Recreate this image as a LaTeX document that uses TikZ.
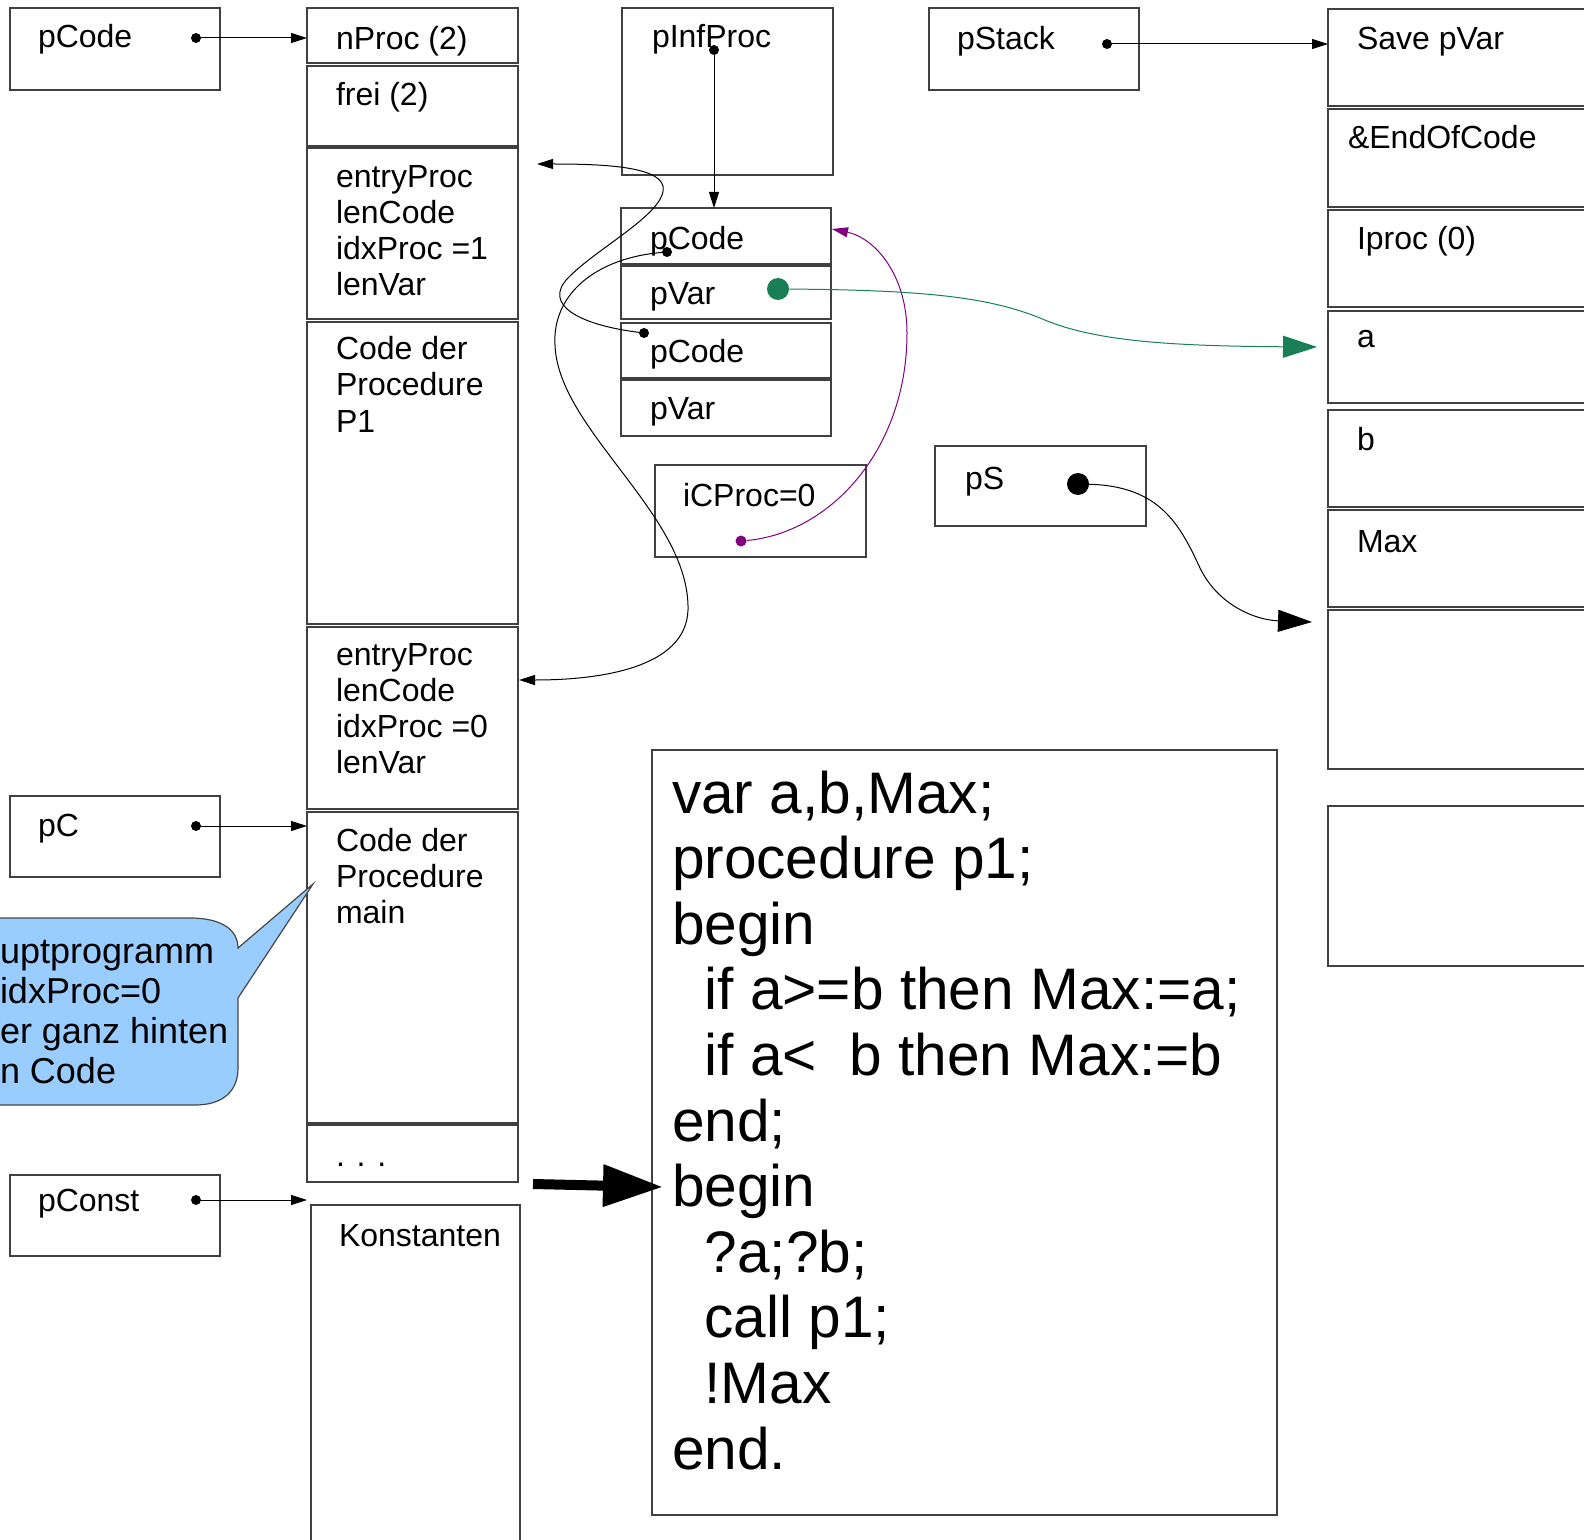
\documentclass[tikz,border=0pt]{standalone}
\usepackage{fontspec}
\setmainfont{Liberation Sans}
\usetikzlibrary{arrows.meta}
\definecolor{callblue}{RGB}{153,204,255}
\definecolor{pgreen}{RGB}{25,128,86}
\definecolor{ppurple}{RGB}{128,0,128}
\newcommand\mybox[5]{\node[box, minimum width={(#4-#2)*0.5pt}, minimum height={(#5-#3)*0.5pt}] (#1) at ({(#2+#4)/2},{(#3+#5)/2}) {};}
\newcommand\sA{\rule{0pt}{12pt}}
\newcommand\sB{\rule{0pt}{22pt}}
\newcommand\sC{\rule{0pt}{14pt}}
\begin{document}
\begin{tikzpicture}[x=0.5pt,y=-0.5pt,
  box/.style={draw=black!75, line width=0.65pt, inner sep=0pt, outer sep=0pt},
  lbl/.style={anchor=north west, inner sep=0pt, outer sep=0pt, align=left, yshift=-1.5pt, font=\fontsize{16}{18}\selectfont},
  codetxt/.style={anchor=north west, inner sep=0pt, outer sep=0pt, align=left, yshift=-1pt, font=\fontsize{29.3}{32.8}\selectfont},
  calltxt/.style={anchor=north west, inner sep=0pt, outer sep=0pt, align=left, font=\fontsize{18}{20}\selectfont},
  pdot/.style={circle, fill=black, inner sep=0pt, outer sep=0pt, minimum size=5pt},
  bigdot/.style={circle, fill=black, inner sep=0pt, outer sep=0pt, minimum size=11pt},
  ptr/.style={line width=0.5pt, -{Triangle[length=8pt,width=5pt]}},
  bigptr/.style={line width=0.5pt, -{Triangle[length=17pt,width=11pt]}}
]
\clip (0,0) rectangle (1584,1540);
\fill[white] (0,0) rectangle (1584,1540);

% ---------- boxes ----------
\mybox{bpcode}{10}{8}{220}{90}
\mybox{bpc}{10}{796}{220}{877}
\mybox{bpconst}{10}{1175}{220}{1256}
\mybox{bnproc}{307}{8}{518}{63}
\mybox{bfrei}{307}{66}{518}{146}
\mybox{bentry1}{307}{148}{518}{319}
\mybox{bcode1}{307}{322}{518}{624}
\mybox{bentry2}{307}{627}{518}{809}
\mybox{bmain}{307}{812}{518}{1123}
\mybox{bdots}{307}{1125}{518}{1182}
\mybox{bkonst}{311}{1205}{520}{1560}
\mybox{binf}{622}{8}{833}{175}
\mybox{bipc1}{621}{208}{831}{264}
\mybox{bipv1}{621}{266}{831}{319}
\mybox{bipc2}{621}{323}{831}{378}
\mybox{bipv2}{621}{380}{831}{436}
\mybox{bicp}{655}{465}{866}{557}
\mybox{bpstack}{929}{8}{1139}{90}
\mybox{bps}{935}{446}{1146}{526}
\mybox{bsave}{1328}{9}{1600}{106}
\mybox{beoc}{1328}{109}{1600}{207}
\mybox{biproc}{1328}{210}{1600}{307}
\mybox{bva}{1328}{311}{1600}{403}
\mybox{bvb}{1328}{410}{1600}{507}
\mybox{bvmax}{1328}{510}{1600}{607}
\mybox{bempty}{1328}{610}{1600}{769}
\mybox{blast}{1328}{806}{1600}{966}
\mybox{bcode}{652}{750}{1277}{1515}

% ---------- texts ----------
\node[lbl] (tpcode) at (38,21) {\sA pCode};
\node[lbl] (tpc) at (38,809) {\sA pC};
\node[lbl] (tpconst) at (38,1184) {\sA pConst};
\node[lbl] (tnproc) at (336,23) {\sA nProc (2)};
\node[lbl] (tfrei) at (336,79) {\sA frei (2)};
\node[lbl] (tentry1) at (336,161) {\sA entryProc\\lenCode\\idxProc =1\\lenVar};
\node[lbl] (tcode1) at (336,333) {\sA Code der\\Procedure\\P1};
\node[lbl] (tentry2) at (336,638) {\sA entryProc\\lenCode\\idxProc =0\\lenVar};
\node[lbl] (tmain) at (336,824) {\sA Code der\\Procedure\\main};
\node[lbl] (tdots) at (336,1139) {\sA . . .};
\node[lbl] (tkonst) at (339,1219) {\sA Konstanten};
\node[lbl] (tinf) at (652,21) {\sA pInfProc};
\node[lbl] (tipc1) at (650,223) {\sA pCode};
\node[lbl] (tipv1) at (650,278) {\sA pVar};
\node[lbl] (tipc2) at (650,336) {\sA pCode};
\node[lbl] (tipv2) at (650,393) {\sA pVar};
\node[lbl] (ticp) at (683,479) {\sA iCProc=0};
\node[lbl] (tpstack) at (957,23) {\sA pStack};
\node[lbl] (tps) at (965,462) {\sA pS};
\node[lbl] (tsave) at (1357,23) {\sA Save pVar};
\node[lbl] (teoc) at (1348,122) {\sA \&EndOfCode};
\node[lbl] (tiproc) at (1357,223) {\sA Iproc (0)};
\node[lbl] (tva) at (1357,321) {\sA a};
\node[lbl] (tvb) at (1357,424) {\sA b};
\node[lbl] (tvmax) at (1357,525) {\sA Max};

\node[codetxt] (tcode) at (672,767) {\sB var a,b,Max;\\
procedure p1;\\
begin\\
\hspace*{0.556em}if a>=b then Max:=a;\\
\hspace*{0.556em}if a<\ \ b then Max:=b\\
end;\\
begin\\
\hspace*{0.556em}?a;?b;\\
\hspace*{0.556em}call p1;\\
\hspace*{0.556em}!Max\\
end.};

% ---------- callout ----------
\draw[draw=black!72, line width=0.6pt, fill=callblue]
  (-60,918) -- (190,918) .. controls (222,918) and (238,930) .. (238,948)
  -- (313,884) -- (238,998) -- (238,1068)
  .. controls (238,1092) and (222,1105) .. (195,1105) -- (-60,1105) -- cycle;
\node[calltxt] (tcall) at (0,935) {\sC uptprogramm\\idxProc=0\\er ganz hinten\\n Code};

% ---------- dots ----------
\node[pdot] (pcd) at (196,38) {};
\node[pdot] (pcd2) at (196,826) {};
\node[pdot] (pcd3) at (196,1200) {};
\node[pdot] (ipd) at (714,50) {};
\node[pdot] (psd) at (1107,44) {};
\node[pdot] (d1) at (667,252) {};
\node[pdot] (d2) at (644,333) {};
\node[circle, fill=pgreen, inner sep=0pt, minimum size=11pt] (gd) at (778,289) {};
\node[circle, fill=ppurple, inner sep=0pt, minimum size=5.5pt] (pd) at (741,541) {};
\node[bigdot] (sd) at (1078,484) {};

% ---------- free ends ----------
\coordinate (t1) at (537,164);
\coordinate (t2) at (519,680);
\coordinate (tp) at (832,229);
\coordinate (tg) at (1317,347);
\coordinate (ts) at (1312,622);
\coordinate (ba) at (533,1184);
\coordinate (bt) at (663,1187);

% ---------- straight pointers ----------
\draw[ptr] (pcd) -- (pcd -| bnproc.west);
\draw[ptr] (pcd2) -- (pcd2 -| bmain.west);
\draw[ptr] (pcd3) -- (pcd3 -| bdots.west);
\draw[ptr] (ipd) -- (ipd |- bipc1.north);
\draw[ptr] (psd) -- (psd -| bsave.west);

% ---------- curved pointers ----------
\draw[ptr] (d2) .. controls (580,325) and (542,305) .. (568,278)
  .. controls (598,247) and (668,212) .. (663,186)
  .. controls (658,166) and (600,164) .. (t1);
\draw[ptr] (d1) .. controls (595,258) and (552,295) .. (555,345)
  .. controls (558,430) and (690,515) .. (688,610)
  .. controls (686,668) and (600,680) .. (t2);
\draw[ptr, draw=ppurple, ppurple] (pd) .. controls (830,533) and (907,450) .. (907,333)
  .. controls (907,275) and (875,238) .. (tp);
\draw[bigptr, draw=pgreen, pgreen] (gd) .. controls (930,290) and (990,298) .. (1040,318)
  .. controls (1090,340) and (1160,346) .. (tg);
\draw[bigptr] (sd) .. controls (1160,486) and (1180,525) .. (1200,568)
  .. controls (1218,605) and (1255,620) .. (ts);

% ---------- big arrow ----------
\draw[line width=5pt, -{Triangle[length=30pt,width=20pt]}] (ba) -- (bt);
\end{tikzpicture}
\end{document}
